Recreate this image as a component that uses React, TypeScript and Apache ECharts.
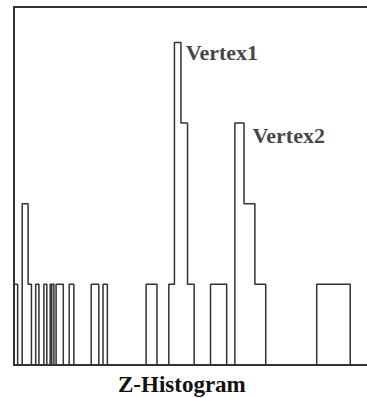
import React, { useEffect, useRef } from "react";
import * as echarts from "echarts";

// Bin edges along z (arbitrary units) and counts per bin [edge_i, edge_i+1]
const binEdges = [0, 3.7, 8.3, 14.3, 17.7, 22, 25.3, 30.3, 33.3, 36.7, 38.3, 38.3, 40.5, 42.7, 50, 56, 60.7, 78.3, 86, 90.3, 94.7, 134, 145, 157, 162.7, 169.3, 176, 182.7, 199.3, 215.7, 224, 233.3, 244.3, 255.3, 307, 341, 355];
const binCounts = [1, 0, 2, 1, 0, 1, 0, 1, 0, 1, 0, 1, 0, 1, 0, 1, 0, 1, 0, 1, 0, 1, 0, 1, 4, 3, 1, 0, 1, 0, 3, 2, 1, 0, 1, 0];

const vertexNames = ["Vertex1", "Vertex2"];
const vertexZ = [169.3, 233.3];
const vertexCounts = [4, 3];

const axisTitle = "Z-Histogram";

export default function App() {
  const ref = useRef<HTMLDivElement>(null);
  useEffect(() => {
    if (!ref.current) return;
    const chart = echarts.init(ref.current, undefined, { renderer: "svg" });
    const stepData: number[][] = binCounts.map((c, i) => [binEdges[i], c]);
    stepData.push([binEdges[binEdges.length - 1], 0]);
    const labelPos = [
      [4.7, -1],
      [8.4, 1.2],
    ];
    const font = "Liberation Serif";
    const hidden = {
      axisTick: { show: false },
      axisLabel: { show: false },
      splitLine: { show: false },
    };
    chart.setOption({
      animation: false,
      backgroundColor: "#ffffff",
      title: {
        text: axisTitle,
        left: 118,
        top: 373,
        padding: 0,
        textStyle: { fontFamily: font, fontWeight: "bold", fontSize: 23, color: "#111" },
      },
      grid: {
        left: 14,
        top: 7,
        width: 358,
        height: 358,
        show: false,
      },
      xAxis: [
        {
          type: "value",
          min: 0,
          max: 358,
          position: "bottom",
          axisLine: { show: true, onZero: false, lineStyle: { color: "#333", width: 2 } },
          ...hidden,
        },
        {
          type: "value",
          min: 0,
          max: 358,
          position: "top",
          axisLine: { show: true, onZero: false, lineStyle: { color: "#333", width: 2 } },
          ...hidden,
        },
      ],
      yAxis: {
        type: "value",
        min: 0,
        max: 4.44,
        position: "left",
        axisLine: { show: true, onZero: false, lineStyle: { color: "#333", width: 2 } },
        ...hidden,
      },
      series: [
        {
          type: "line",
          step: "end",
          data: stepData,
          showSymbol: false,
          symbol: "none",
          clip: false,
          lineStyle: { color: "#333", width: 1.5 },
        },
        {
          type: "scatter",
          symbolSize: 0,
          data: vertexNames.map((n, i) => ({
            name: n,
            value: [vertexZ[i], vertexCounts[i]],
            label: {
              show: true,
              formatter: "{b}",
              position: labelPos[i],
              align: "left",
              verticalAlign: "top",
              fontFamily: font,
              fontWeight: "bold",
              fontSize: 22,
              color: "#111",
            },
          })),
        },
      ],
    });
    return () => chart.dispose();
  }, []);
  return (
    <div
      ref={ref}
      style={{ position: "absolute", left: 0, top: 0, width: 367, height: 398, overflow: "hidden" }}
    />
  );
}
